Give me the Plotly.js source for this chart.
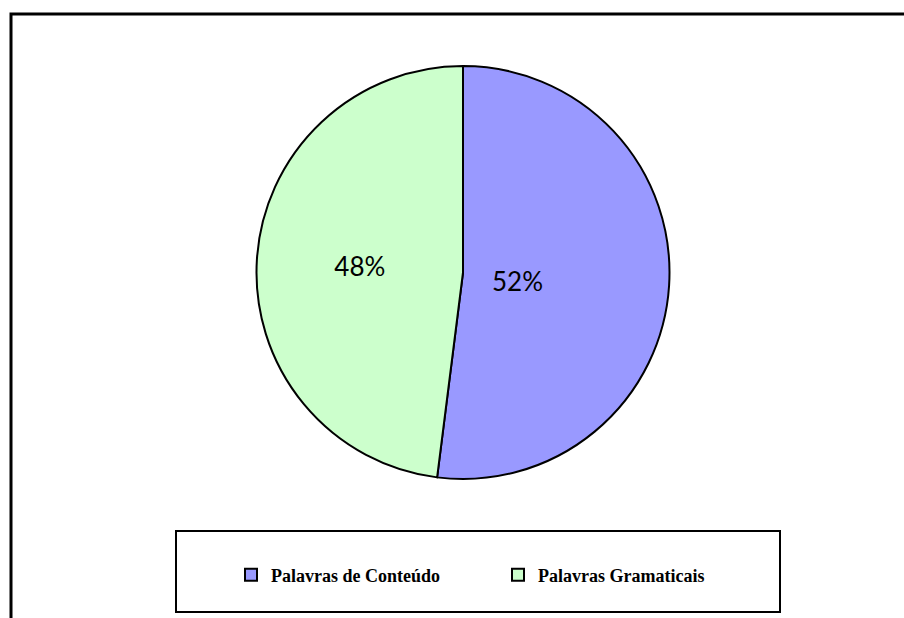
<!DOCTYPE html>
<html>
<head>
<meta charset="utf-8">
<script src="https://cdn.plot.ly/plotly-3.0.1.min.js"></script>
<style>html,body{margin:0;padding:0;background:#fff;}</style>
</head>
<body>
<div id="chart" style="width:904px;height:618px;"></div>
<script>
const labels = ["Palavras de Conteúdo", "Palavras Gramaticais"];
const values = [52, 48];
const colors = ["#9999FF", "#CCFFCC"];

const total = values.reduce((a, b) => a + b, 0);
const pctText = values.map(v => Math.round(100 * v / total) + "%");
const labelFont = { family: "Lato, Open Sans, sans-serif", size: 26, color: "#000000" };

const trace = {
  type: "pie",
  labels: labels,
  values: values,
  sort: false,
  direction: "clockwise",
  rotation: 0,
  marker: { colors: colors, line: { color: "#000000", width: 2 } },
  text: pctText,
  textinfo: "text",
  textposition: ["none", "inside"],
  insidetextorientation: "horizontal",
  textfont: labelFont,
  domain: { x: [256/904, 670/904], y: [1 - 479/618, 1 - 66/618] },
  hoverinfo: "label+percent"
};

const layout = {
  width: 904,
  height: 618,
  margin: { l: 0, r: 0, t: 0, b: 0 },
  paper_bgcolor: "#ffffff",
  showlegend: true,
  legend: {
    orientation: "h",
    x: 231/904,
    xanchor: "left",
    y: 1 - 575/618,
    yanchor: "middle",
    entrywidth: 222,
    entrywidthmode: "pixels",
    font: { family: "Liberation Serif, serif", size: 18, color: "#000000", weight: "bold" },
    bgcolor: "rgba(0,0,0,0)",
    borderwidth: 0
  },
  annotations: [
    { text: pctText[0], xref: "paper", yref: "paper", x: 517/904, y: 1 - 281/618,
      xanchor: "center", yanchor: "middle", showarrow: false, font: labelFont }
  ],
  shapes: [
    { type: "rect", xref: "paper", yref: "paper", x0: 11/904, x1: 1.05, y0: -0.05, y1: 1 - 14/618,
      line: { color: "#000000", width: 3 }, fillcolor: "rgba(0,0,0,0)" },
    { type: "rect", xref: "paper", yref: "paper", x0: 176/904, x1: 780/904, y0: 1 - 612/618, y1: 1 - 531/618,
      line: { color: "#000000", width: 2 }, fillcolor: "rgba(0,0,0,0)" }
  ]
};

Plotly.newPlot("chart", [trace], layout, { displayModeBar: false, staticPlot: true });
</script>
</body>
</html>
